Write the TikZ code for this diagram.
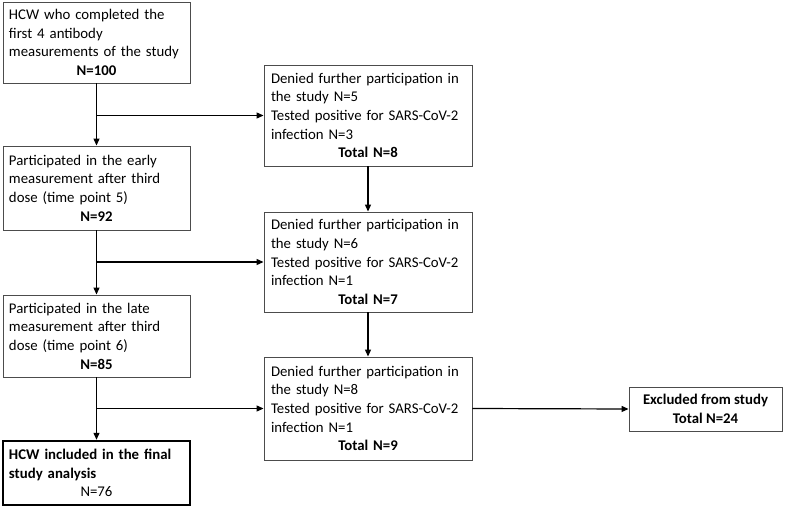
\documentclass[tikz,border=0pt]{standalone}
\usepackage{fontspec}
\setmainfont{Carlito}
\usetikzlibrary{arrows.meta}
\begin{document}
\begin{tikzpicture}[x=1pt,y=-1pt,
  every node/.style={font=\fontsize{14.8}{18.7}\selectfont},
  boxL/.style={draw=black!70, line width=0.9pt, minimum width=187pt, text width=175pt, inner xsep=6pt, inner ysep=2pt, align=left},
  boxR/.style={draw=black!70, line width=0.9pt, minimum width=208pt, text width=194pt, inner xsep=7pt, inner ysep=2pt, align=left},
  arr/.style={line width=1.2pt, -{Triangle[length=7pt,width=6pt]}},
  ln/.style={line width=1.2pt}]
\useasboundingbox (0,0) rectangle (798,508);
\fill[white] (0,0) rectangle (798,508);

\node[boxL, minimum height=81pt] (b1) at (96.5,42.5) {\mbox{HCW who completed the}\\\mbox{first 4 antibody}\\\mbox{measurements of the study}\\\makebox[\linewidth]{\textbf{N=100}}};
\node[boxL, minimum height=84pt] (b2) at (96.5,188) {\mbox{Participated in the early}\\\mbox{measurement after third}\\\mbox{dose (time point 5)}\\\makebox[\linewidth]{\textbf{N=92}}};
\node[boxL, minimum height=82pt] (b3) at (96.5,336) {\mbox{Participated in the late}\\\mbox{measurement after third}\\\mbox{dose (time point 6)}\\\makebox[\linewidth]{\textbf{N=85}}};
\node[boxL, draw=black, line width=2.4pt, minimum height=64pt] (b4) at (96.5,473) {\mbox{\textbf{HCW included in the final}}\\\mbox{\textbf{study analysis}}\\\makebox[\linewidth]{N=76}};

\node[boxR, minimum height=101pt] (r1) at (368,115.5) {\mbox{Denied further participation in}\\\mbox{the study N=5}\\\mbox{Tested positive for SARS-CoV-2}\\\mbox{infection N=3}\\\makebox[\linewidth]{\textbf{Total N=8}}};
\node[boxR, minimum height=100pt] (r2) at (368,262) {\mbox{Denied further participation in}\\\mbox{the study N=6}\\\mbox{Tested positive for SARS-CoV-2}\\\mbox{infection N=1}\\\makebox[\linewidth]{\textbf{Total N=7}}};
\node[boxR, minimum height=103pt] (r3) at (368,408.5) {\mbox{Denied further participation in}\\\mbox{the study N=8}\\\mbox{Tested positive for SARS-CoV-2}\\\mbox{infection N=1}\\\makebox[\linewidth]{\textbf{Total N=9}}};

\node[draw=black!70, line width=0.9pt, minimum width=153pt, minimum height=44pt, align=center, inner sep=2pt] (ex) at (705.5,409) {\textbf{Excluded from study}\\\textbf{Total N=24}};

\coordinate (j1) at (b1.south |- r1.west);
\coordinate (j2) at (b2.south |- r2.west);
\coordinate (j3) at (b3.south |- r3.west);

\draw[arr] (b1.south) -- (b2.north);
\draw[arr] (j1) -- (r1.west);
\draw[arr] (r1.south) -- (r2.north);
\draw[arr] (b2.south) -- (b3.north);
\draw[arr] (j2) -- (r2.west);
\draw[arr] (r2.south) -- (r3.north);
\draw[arr] (b3.south) -- (b4.north);
\draw[arr] (j3) -- (r3.west);
\draw[arr] (r3.east) -- (ex.west);
\end{tikzpicture}
\end{document}
